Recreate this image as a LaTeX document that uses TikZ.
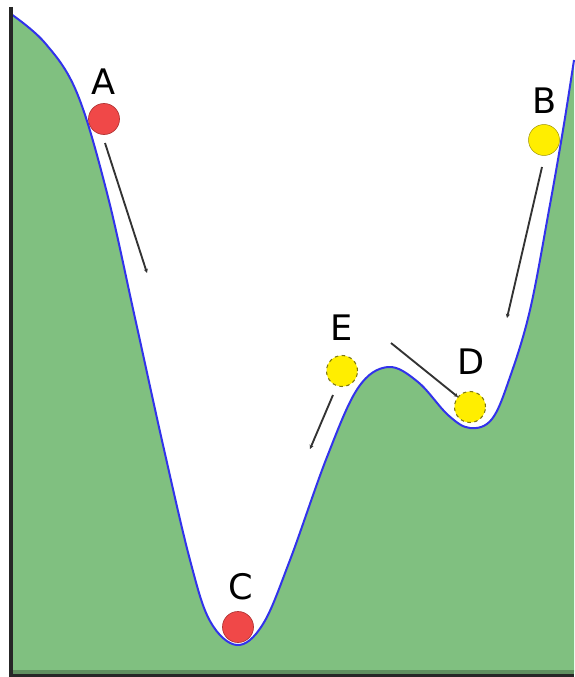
\documentclass[tikz,border=0pt]{standalone}
\usepackage{fontspec}
\setsansfont{DejaVu Sans}
\usetikzlibrary{arrows.meta}
\definecolor{hill}{RGB}{128,192,128}
\definecolor{rim}{RGB}{50,50,235}
\definecolor{ballred}{RGB}{240,72,72}
\definecolor{ballyel}{RGB}{255,238,0}

\begin{document}
\begin{tikzpicture}[>=Stealth,x=0.03cm,y=-0.03cm,
  ball/.style={circle,minimum size=0.93cm,inner sep=0pt},
  redball/.style={ball,fill=ballred,draw=ballred!75!black,line width=0.6pt},
  yelball/.style={ball,fill=ballyel,draw=olive!85!black,dashed,line width=0.9pt},
  letter/.style={font=\fontsize{30}{30}\selectfont\sffamily,inner sep=0pt},
  roll/.style={-{Stealth[length=3.5pt,width=3.5pt]},line width=1.6pt,draw=black!80}]
  \useasboundingbox (0,0) rectangle (574,677);
  % the landscape
  \fill[hill] plot[smooth,tension=0.6] coordinates {(11,14) (45,43) (77,93) (107,193)
    (135,318) (163,445) (190,560) (210,621) (237,645) (263,624) (290,560)
    (327,457) (358,388) (388,367) (418,382) (448,415) (470,428) (492,419)
    (510,377) (530,310) (549,210) (563,130) (574,60)}
    -- (574,672) -- (11,672) -- cycle;
  \fill[hill!75!black] (11,670) rectangle (574,673.5);
  \draw[rim,line width=1.7pt] plot[smooth,tension=0.6] coordinates {(11,14) (45,43) (77,93) (107,193)
    (135,318) (163,445) (190,560) (210,621) (237,645) (263,624) (290,560)
    (327,457) (358,388) (388,367) (418,382) (448,415) (470,428) (492,419)
    (510,377) (530,310) (549,210) (563,130) (574,60)};
  \draw[black!85,line width=2.6pt] (11,7) -- (11,675.5) -- (574,675.5);

  % balls
  \node[redball] (A) at (104,119) {};
  \node[yelball,draw=ballyel!60!black,solid,line width=0.4pt] (B) at (544,140) {};
  \node[redball] (C) at (238,627) {};
  \node[yelball] (D) at (470,407) {};
  \node[yelball] (E) at (342,371) {};

  % letters
  \node[letter] (lA) at (104,82) {A};
  \node[letter] (lB) at (545,101) {B};
  \node[letter] (lC) at (241,587) {C};
  \node[letter] (lD) at (471,362) {D};
  \node[letter] (lE) at (342,328) {E};

  % where they roll
  \coordinate (a0) at (105,143); \coordinate (a1) at (147,273);
  \coordinate (b0) at (542,167); \coordinate (b1) at (507,318);
  \coordinate (e0) at (333,395); \coordinate (e1) at (310,449);
  \coordinate (d0) at (391,343); \coordinate (d1) at (458,397);
  \draw[roll] (a0) -- (a1);
  \draw[roll] (b0) -- (b1);
  \draw[roll] (e0) -- (e1);
  \draw[roll] (d0) -- (d1);
\end{tikzpicture}
\end{document}
